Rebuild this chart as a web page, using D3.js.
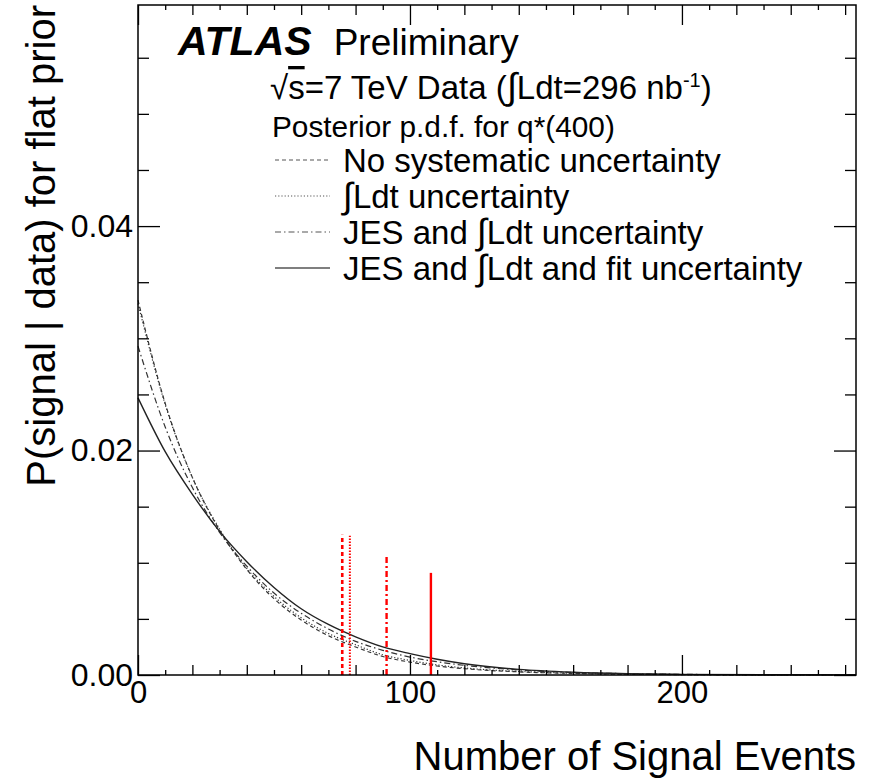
<!DOCTYPE html>
<html>
  <head>
    <title>Posterior p.d.f. q*(400)</title>
    <meta charset="utf-8">
    <script src="https://d3js.org/d3.v7.min.js"></script>
    <style>
      body { margin: 0; background: #fff; }
      text { font-family: "Liberation Sans", Arial, Helvetica, sans-serif; fill: #000; }
      .axis path, .axis line { stroke: #000; stroke-width: 1.3; }
      .axis .domain { display: none; }
    </style>
  </head>
  <body>
    <div id="vis1"></div>
    <script>

      // signal events
      var nSignal = [0, 10, 20, 30, 40, 50, 60, 70, 80, 90, 100, 110, 120, 140, 160, 180, 200, 230, 264];
      var noSyst   = [0.0334, 0.0242, 0.0176, 0.0129, 0.0094, 0.0068, 0.0049, 0.0035, 0.0025, 0.00165, 0.00115, 0.0008, 0.00056, 0.00028, 0.00014, 0.00007, 0.000035, 0.00001, 0.000003];
      var lumiOnly = [0.0331, 0.0241, 0.0176, 0.0130, 0.0095, 0.0070, 0.0051, 0.0037, 0.0027, 0.0018, 0.0013, 0.0009, 0.00063, 0.00032, 0.00016, 0.00008, 0.00004, 0.000012, 0.000004];
      var jesLumi  = [0.0293, 0.0221, 0.0167, 0.0127, 0.0097, 0.0073, 0.0055, 0.0041, 0.0030, 0.0022, 0.0016, 0.00118, 0.00086, 0.00045, 0.00023, 0.00012, 0.00006, 0.00002, 0.000006];
      var jesLumiFit = [0.0247, 0.0199, 0.0161, 0.0128, 0.0101, 0.0078, 0.0059, 0.0045, 0.0034, 0.0025, 0.0019, 0.0014, 0.0010, 0.0005, 0.00025, 0.00012, 0.00006, 0.00002, 0.00001];

      // 95% limits (red lines) and their heights
      var limits = [75.1, 77.9, 91.4, 107.7];
      var limitHeights = [0.0125, 0.0124, 0.0107, 0.0091];

      var legendLabels = ["No systematic uncertainty", "Ldt uncertainty", "JES and ", "JES and "];
      var xTicks = [0, 100, 200];
      var yTicks = [0, 0.02, 0.04];

      var W = 871, H = 778;
      var mLeft = 138, mRight = 856, mTop = 5, mBottom = 675;

      var svg = d3.select("#vis1").append("svg")
                  .attr("width", W)
                  .attr("height", H);

      var x = d3.scaleLinear().domain([0, 264]).range([mLeft, mRight]);
      var y = d3.scaleLinear().domain([0, 0.0597]).range([mBottom, mTop]);

      // line styles, same order as the series
      var styles = [
        {dash: "4,3", width: 1.2, color: "#333"},
        {dash: "1.2,2", width: 1.2, color: "#333"},
        {dash: "6,3,1.5,3", width: 1.2, color: "#333"},
        {dash: null, width: 1.4, color: "#222"}
      ];
      var series = [noSyst, lumiOnly, jesLumi, jesLumiFit];

      var line = d3.line()
        .x(function(d){ return x(d[0]) })
        .y(function(d){ return y(d[1]) })
        .curve(d3.curveMonotoneX);

      series.forEach(function(s, i){
        var pts = nSignal.map(function(n, j){ return [n, s[j]] });
        svg.append("path")
          .attr("d", line(pts))
          .attr("fill", "none")
          .attr("stroke", styles[i].color)
          .attr("stroke-width", styles[i].width)
          .attr("stroke-dasharray", styles[i].dash);
      });

      // red limit lines
      var redStyles = [
        {dash: "4,3", width: 2.6},
        {dash: "1.5,1.5", width: 2},
        {dash: "6,3,2,3", width: 2.4},
        {dash: null, width: 2.4}
      ];
      limits.forEach(function(l, i){
        svg.append("line")
          .attr("x1", x(l)).attr("x2", x(l))
          .attr("y1", y(0)).attr("y2", y(limitHeights[i]))
          .attr("stroke", "#ff0000")
          .attr("stroke-width", redStyles[i].width)
          .attr("stroke-dasharray", redStyles[i].dash);
      });

      // axes (ticks inside the frame, ROOT style)
      var xMidVals = d3.range(20, 264, 20).filter(function(v){ return v % 100 != 0 });
      var xMinorVals = d3.range(10, 264, 20);
      var xAxis = d3.axisBottom(x).tickValues(xTicks).tickSize(-20).tickPadding(6).tickFormat(d3.format("d"));

      svg.append("g").attr("class", "x axis")
        .attr("transform", "translate(0," + mBottom + ")")
        .call(xAxis);
      [[xMidVals, 10], [xMinorVals, 5]].forEach(function(p){
        svg.append("g").attr("class", "x axis")
          .attr("transform", "translate(0," + mBottom + ")")
          .call(d3.axisBottom(x).tickValues(p[0]).tickSize(-p[1]).tickFormat(""));
      });
      [[xTicks, 20], [xMidVals, 10], [xMinorVals, 5]].forEach(function(p){
        svg.append("g").attr("class", "x axis")
          .attr("transform", "translate(0," + mTop + ")")
          .call(d3.axisTop(x).tickValues(p[0]).tickSize(-p[1]).tickFormat(""));
      });

      var yMinorVals = d3.range(0.005, 0.0597, 0.005).filter(function(v){ return Math.abs(v - 0.02) > 1e-6 && Math.abs(v - 0.04) > 1e-6 });
      var yAxis = d3.axisLeft(y).tickValues(yTicks).tickSize(-22).tickPadding(5).tickFormat(d3.format(".2f"));
      svg.append("g").attr("class", "y axis").attr("transform", "translate(" + mLeft + ",0)").call(yAxis);
      svg.append("g").attr("class", "y axis").attr("transform", "translate(" + mLeft + ",0)")
        .call(d3.axisLeft(y).tickValues(yMinorVals).tickSize(-11).tickFormat(""));
      svg.append("g").attr("class", "y axis").attr("transform", "translate(" + mRight + ",0)")
        .call(d3.axisRight(y).tickValues(yTicks).tickSize(-22).tickFormat(""));
      svg.append("g").attr("class", "y axis").attr("transform", "translate(" + mRight + ",0)")
        .call(d3.axisRight(y).tickValues(yMinorVals).tickSize(-11).tickFormat(""));

      svg.selectAll(".x.axis text").style("font-size", "31px");
      svg.selectAll(".y.axis text").style("font-size", "32px");

      // frame
      svg.append("rect")
        .attr("x", mLeft).attr("y", mTop)
        .attr("width", mRight - mLeft).attr("height", mBottom - mTop)
        .attr("fill", "none").attr("stroke", "#000").attr("stroke-width", 1.5);

      // axis titles
      svg.append("text")
        .attr("x", mRight).attr("y", 770)
        .style("text-anchor", "end")
        .style("font-size", "40px")
        .text("Number of Signal Events");

      svg.append("text")
        .attr("transform", "translate(55," + mTop + ") rotate(-90)")
        .style("text-anchor", "end")
        .style("font-size", "40px")
        .text("P(signal | data) for flat prior");

      // ATLAS label
      var atl = svg.append("text").attr("x", 178).attr("y", 55).style("font-size", "37px");
      atl.append("tspan").style("font-weight", "bold").style("font-style", "italic").style("font-size", "41px").text("ATLAS");
      atl.append("tspan").attr("dx", 22).text("Preliminary");

      var lum = svg.append("text").attr("x", 270).attr("y", 99).style("font-size", "33px");
      lum.append("tspan").text("√");
      lum.append("tspan").style("text-decoration", "overline").text("s");
      lum.append("tspan").text("=7 TeV Data (");
      lum.append("tspan").style("font-size", "37px").text("∫");
      lum.append("tspan").text("Ldt=296 nb");
      lum.append("tspan").attr("dy", -12).style("font-size", "20px").text("-1");
      lum.append("tspan").attr("dy", 12).text(")");

      svg.append("text").attr("x", 272).attr("y", 137).style("font-size", "29.8px")
        .text("Posterior p.d.f. for q*(400)");

      // legend
      var legY = [160, 196, 232, 268];
      legY.forEach(function(ly, i){
        svg.append("line")
          .attr("x1", 275).attr("x2", 330)
          .attr("y1", ly).attr("y2", ly)
          .attr("stroke", "#555")
          .attr("stroke-width", styles[i].width)
          .attr("stroke-dasharray", styles[i].dash);
        var t = svg.append("text").attr("x", 343).attr("y", ly + 12).style("font-size", "33px");
        if (i == 0) {
          t.text(legendLabels[0]);
        } else {
          if (i > 1) t.append("tspan").text(legendLabels[i]);
          t.append("tspan").style("font-size", "36px").text("∫");
          t.append("tspan").text(i == 3 ? "Ldt and fit uncertainty" : "Ldt uncertainty");
        }
      });

    </script>
  </body>
</html>
